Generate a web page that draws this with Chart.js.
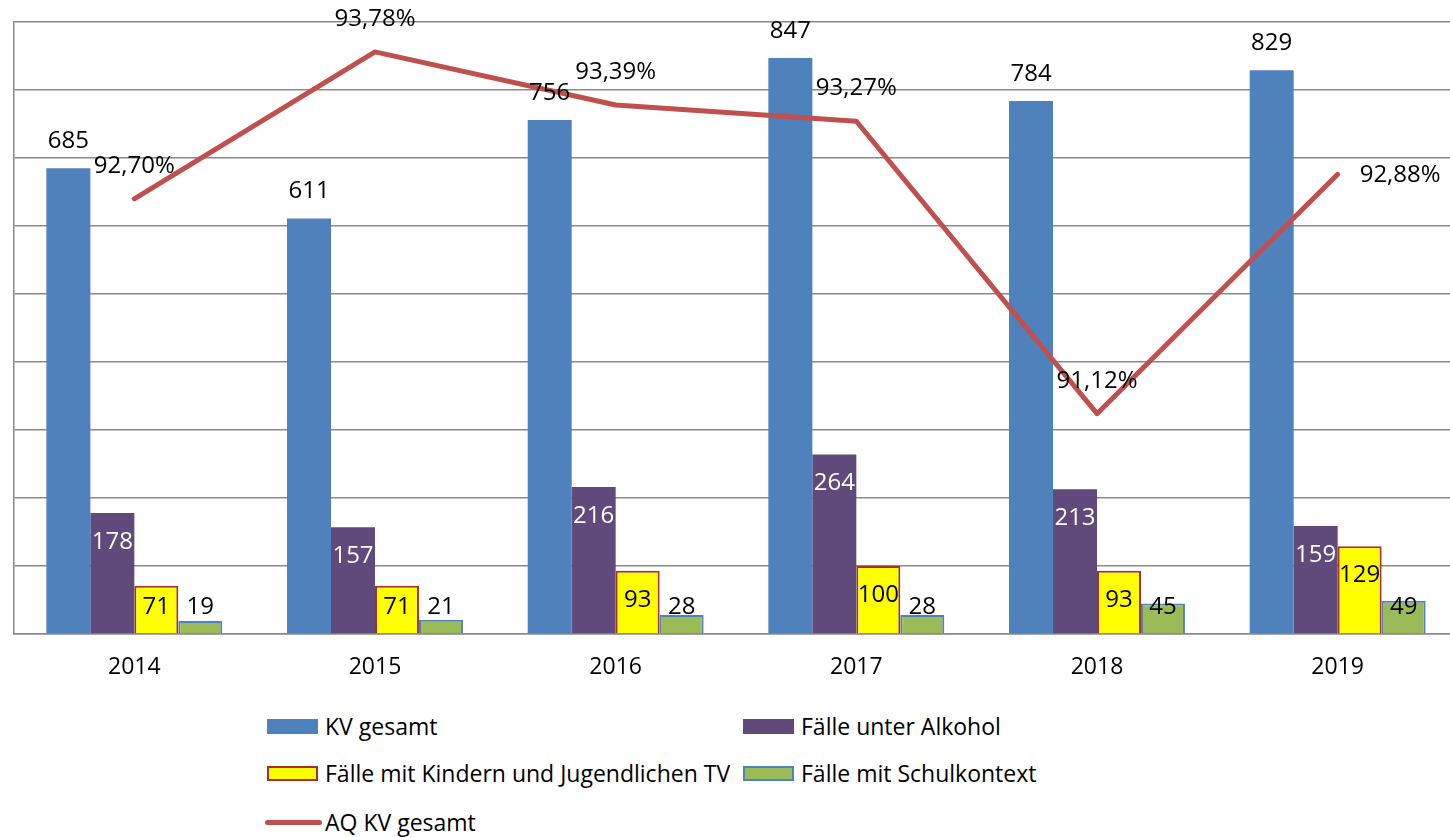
<!DOCTYPE html>
<html>
<head>
<meta charset="utf-8">
<script src="https://cdn.jsdelivr.net/npm/chart.js@4"></script>
<style>
    html, body { margin: 0; padding: 0; background: #fff; overflow: hidden; }
    #wrap { position: relative; width: 1460px; height: 837px; }
    #chart { position: absolute; left: 0; top: 0; }
    .lg { position: absolute; display: flex; align-items: center; height: 30px;
          font-family: "Open Sans", sans-serif; font-size: 23px; color: #000; white-space: nowrap; }
    .lg .sw { box-sizing: border-box; margin-right: 7px; }
</style>
</head>
<body>
<div id="wrap">
    <canvas id="chart" width="1460" height="700"></canvas>
</div>
<script>
const years = ['2014', '2015', '2016', '2017', '2018', '2019'];
const kvGesamt = [685, 611, 756, 847, 784, 829];
const unterAlkohol = [178, 157, 216, 264, 213, 159];
const kinderJugendliche = [71, 71, 93, 100, 93, 129];
const schulkontext = [19, 21, 28, 28, 45, 49];
const aqQuote = [92.70, 93.78, 93.39, 93.27, 91.12, 92.88];

const FONT = '"Open Sans", sans-serif';
const GRID = '#8a8a8a';

const fmtPct = v => v.toFixed(2).replace('.', ',') + '%';

// value labels drawn like the Excel data labels
const valueLabels = {
    id: 'valueLabels',
    afterDatasetsDraw(chart) {
        const ctx = chart.ctx;
        ctx.save();
        ctx.font = '24px ' + FONT;
        ctx.textBaseline = 'middle';
        chart.data.datasets.forEach((ds, di) => {
            const meta = chart.getDatasetMeta(di);
            meta.data.forEach((el, i) => {
                const v = ds.data[i];
                if (ds.type === 'line') {
                    ctx.fillStyle = '#000';
                    if (i === ds.data.length - 1) {
                        ctx.textAlign = 'left';
                        ctx.fillText(fmtPct(v), el.x + 22, el.y + 1);
                    } else {
                        ctx.textAlign = 'center';
                        ctx.fillText(fmtPct(v), el.x, el.y - 33);
                    }
                    return;
                }
                ctx.textAlign = 'center';
                ctx.fillStyle = ds.labelColor;
                let y;
                if (ds.labelOutside) y = el.y - 27;
                else y = Math.min(el.y + 29, el.base - 26);
                ctx.fillText(String(v), el.x, y);
            });
        });
        ctx.restore();
    }
};

const datasets = [
    { label: 'KV gesamt', data: kvGesamt, backgroundColor: '#4f81bd', labelColor: '#000', labelOutside: true },
    { label: 'Fälle unter Alkohol', data: unterAlkohol, backgroundColor: '#604a7b', labelColor: '#fff' },
    { label: 'Fälle mit Kindern und Jugendlichen TV', data: kinderJugendliche, backgroundColor: '#ffff00',
      borderColor: '#a5302d', borderWidth: 2, labelColor: '#000' },
    { label: 'Fälle mit Schulkontext', data: schulkontext, backgroundColor: '#9bbb59',
      borderColor: '#4f81bd', borderWidth: 2, labelColor: '#000' }
].map(d => Object.assign({ type: 'bar', yAxisID: 'y', order: 1,
    barPercentage: 1, categoryPercentage: 0.731 }, d));

datasets.push({
    type: 'line', label: 'AQ KV gesamt', data: aqQuote, yAxisID: 'y1', order: 0,
    borderColor: '#c0504d', borderWidth: 5, pointRadius: 0, tension: 0,
    borderCapStyle: 'round', borderJoinStyle: 'round', fill: false
});

new Chart(document.getElementById('chart'), {
    data: { labels: years, datasets },
    options: {
        responsive: false,
        animation: false,
        layout: { padding: { left: 14, top: 22, right: 2, bottom: 0 } },
        plugins: { legend: { display: false }, tooltip: { enabled: false } },
        scales: {
            x: {
                grid: { display: false, drawTicks: false },
                border: { color: GRID, width: 1.5 },
                ticks: { color: '#000', font: { family: FONT, size: 23 }, padding: 20 },
                afterFit: s => { s.height = 66; }
            },
            y: {
                min: 0, max: 900,
                ticks: { display: false, stepSize: 100 },
                grid: { color: GRID, lineWidth: 1.5, drawTicks: false },
                border: { color: GRID, width: 1.5 },
                afterFit: s => { s.width = 0; }
            },
            y1: {
                display: false, min: 89.5, max: 94
            }
        }
    },
    plugins: [valueLabels]
});

// legend in the Excel layout: two columns, three rows
const legendSlots = [[267, 711], [743, 711], [267, 758], [743, 758], [265, 807]];
const wrap = document.getElementById('wrap');
datasets.forEach((ds, i) => {
    const item = document.createElement('div');
    item.className = 'lg';
    item.style.left = legendSlots[i][0] + 'px';
    item.style.top = legendSlots[i][1] + 'px';
    const sw = document.createElement('div');
    sw.className = 'sw';
    if (ds.type === 'line') {
        sw.style.width = '57px';
        sw.style.height = '5px';
        sw.style.borderRadius = '3px';
        sw.style.background = ds.borderColor;
        sw.style.marginRight = '3px';
    } else {
        sw.style.width = '51px';
        sw.style.height = '15px';
        sw.style.background = ds.backgroundColor;
        if (ds.borderWidth) sw.style.border = ds.borderWidth + 'px solid ' + ds.borderColor;
    }
    item.appendChild(sw);
    const tx = document.createElement('span');
    tx.textContent = ds.label;
    item.appendChild(tx);
    wrap.appendChild(item);
});
</script>
</body>
</html>
